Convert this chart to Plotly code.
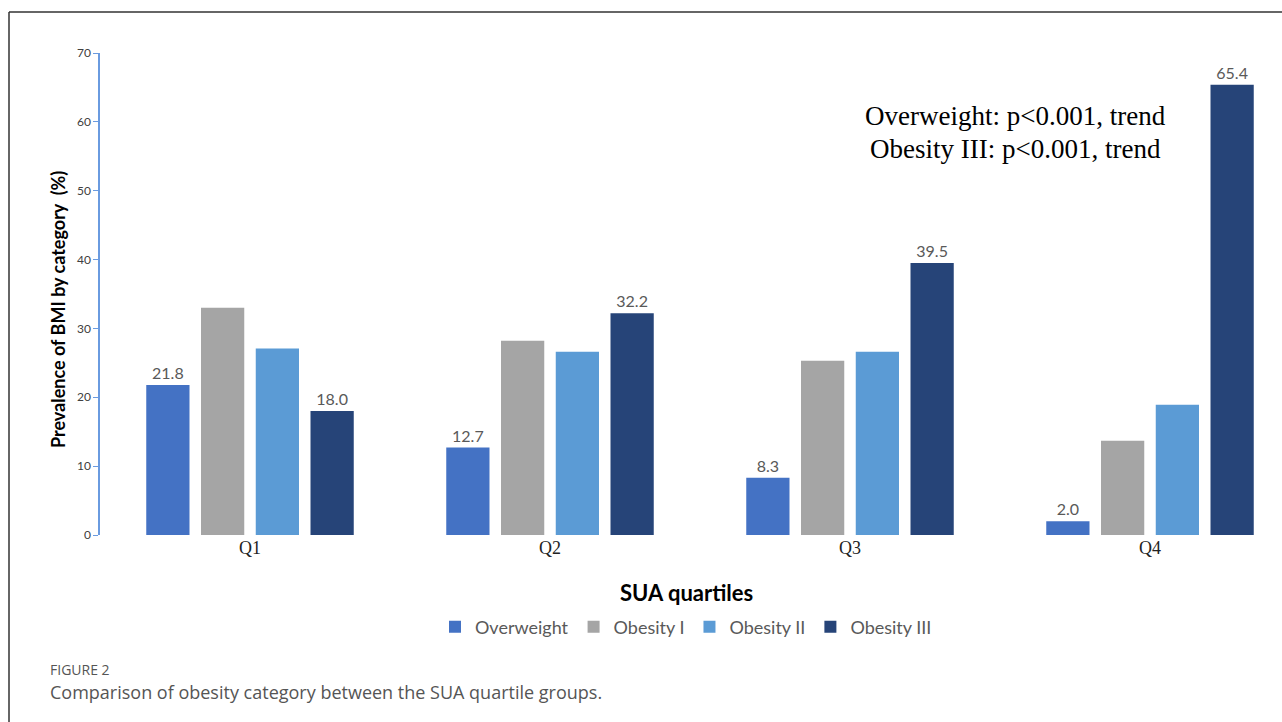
import plotly.graph_objects as go

quartiles = ["Q1", "Q2", "Q3", "Q4"]
series_names = ["Overweight", "Obesity I", "Obesity II", "Obesity III"]
overweight = [21.8, 12.7, 8.3, 2.0]
obesity_1 = [33.0, 28.2, 25.3, 13.7]
obesity_2 = [27.1, 26.6, 26.6, 18.9]
obesity_3 = [18.0, 32.2, 39.5, 65.4]
show_labels = [True, False, False, True]
colors = ["#4472C4", "#A5A5A5", "#5B9BD5", "#264478"]
y_ticks = [0, 10, 20, 30, 40, 50, 60, 70]
note_lines = ["Overweight: p&lt;0.001, trend", "Obesity III: p&lt;0.001, trend"]

W, H = 1282, 722
L, T, B = 100, 53, 187
plot_w = W - L
plot_h = H - T - B

def px(x):
    return (x - L) / plot_w

def py(y):
    return (H - B - y) / plot_h

fig = go.Figure()
for name, vals, col, lab in zip(series_names, [overweight, obesity_1, obesity_2, obesity_3], colors, show_labels):
    fig.add_trace(go.Bar(
        name=name, x=quartiles, y=vals,
        marker=dict(color=col, line=dict(width=0)),
        texttemplate="%{y:.1f}" if lab else None,
        textposition="outside" if lab else "none",
        textfont=dict(family="Lato", size=16, color="#595959"),
        cliponaxis=False,
    ))

fig.update_layout(
    width=W, height=H,
    margin=dict(l=L, r=0, t=T, b=B),
    plot_bgcolor="white", paper_bgcolor="white",
    barmode="group", bargap=0.27, bargroupgap=0.21,
    showlegend=True,
    legend=dict(orientation="h", x=px(686), xanchor="center", y=py(627), yanchor="middle",
                font=dict(family="Lato", size=18, color="#595959"), itemwidth=30,
                traceorder="normal"),
    xaxis=dict(range=[-0.5, -0.5 + plot_w / 300], showline=False, showgrid=False,
               ticks="", tickfont=dict(family="Liberation Serif", size=18, color="#222222"),
               fixedrange=True),
    yaxis=dict(range=[0, 70], tickvals=y_ticks, showgrid=False, zeroline=False,
               showline=True, linecolor="#6A9BE0", linewidth=1.5,
               ticks="outside", ticklen=5, tickcolor="#6A9BE0",
               tickfont=dict(family="Lato", size=12, color="#404040")),
)

fig.add_annotation(text="<b>Prevalence of BMI by category  (%)</b>", xref="paper", yref="paper",
                   x=px(58), y=py(310), xanchor="center", yanchor="middle", showarrow=False,
                   textangle=-90, font=dict(family="Lato", size=18, color="#000000"))
fig.add_annotation(text="<b>SUA quartiles</b>", xref="paper", yref="paper",
                   x=px(686), y=py(592), xanchor="center", yanchor="middle", showarrow=False,
                   font=dict(family="Lato", size=22, color="#000000"))
for line, yy in zip(note_lines, [116, 149]):
    fig.add_annotation(text=line, xref="paper", yref="paper", x=px(1015), y=py(yy),
                       xanchor="center", yanchor="middle", showarrow=False,
                       font=dict(family="Liberation Serif", size=27, color="#000000"))
fig.add_annotation(text="FIGURE 2", xref="paper", yref="paper", x=px(48), y=py(669),
                   xanchor="left", yanchor="middle", showarrow=False,
                   font=dict(family="Open Sans", size=14, color="#555555"))
fig.add_annotation(text="Comparison of obesity category between the SUA quartile groups.",
                   xref="paper", yref="paper", x=px(48), y=py(692),
                   xanchor="left", yanchor="middle", showarrow=False,
                   font=dict(family="Open Sans", size=18, color="#555555"))

# frame
fig.add_shape(type="line", xref="paper", yref="paper", x0=px(9), x1=px(W), y0=py(12), y1=py(12),
              line=dict(color="#333333", width=1.5))
fig.add_shape(type="line", xref="paper", yref="paper", x0=px(9), x1=px(9), y0=py(12), y1=py(H),
              line=dict(color="#333333", width=1.5))

fig.write_html("out.html")
